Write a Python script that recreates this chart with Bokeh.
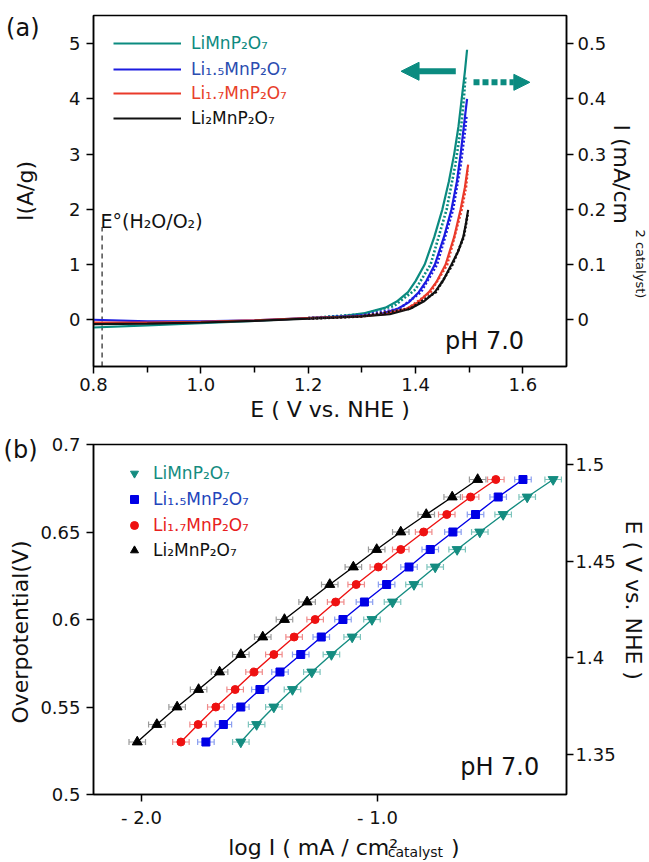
import math
from bokeh.plotting import figure
from bokeh.models import (LinearAxis, Range1d, FixedTicker, Legend, LegendItem, Label, Title,
                          Arrow, NormalHead, Whisker, TeeHead, ColumnDataSource)
from bokeh.layouts import column
from bokeh.embed import file_html
from bokeh.resources import INLINE

FONT = "DejaVu Sans"

# ---------------- Panel (a): LSV curves ----------------
names = ["LiMnP₂O₇", "Li₁.₅MnP₂O₇", "Li₁.₇MnP₂O₇", "Li₂MnP₂O₇"]
colors_a = ["#0b8b80", "#1c1ce0", "#ea3a2a", "#111111"]
text_colors_a = ["#0e8a80", "#2a4cb0", "#e8402a", "#111111"]

E_teal = [0.80, 0.90, 1.00, 1.10, 1.20, 1.26, 1.306, 1.344, 1.365, 1.386, 1.400, 1.417, 1.435, 1.450, 1.462, 1.472, 1.480, 1.486, 1.492, 1.496]
I_teal = [-0.14, -0.10, -0.06, -0.02, 0.03, 0.06, 0.12, 0.22, 0.33, 0.50, 0.70, 1.00, 1.50, 2.00, 2.50, 3.00, 3.50, 4.00, 4.50, 4.89]
E_blue = [0.80, 0.90, 1.00, 1.10, 1.20, 1.28, 1.333, 1.367, 1.388, 1.406, 1.420, 1.436, 1.453, 1.467, 1.477, 1.484, 1.490, 1.496]
I_blue = [0.00, -0.03, -0.03, -0.01, 0.03, 0.06, 0.10, 0.20, 0.32, 0.50, 0.70, 1.00, 1.50, 2.00, 2.50, 3.00, 3.50, 4.00]
E_red = [0.80, 0.90, 1.00, 1.10, 1.20, 1.29, 1.344, 1.383, 1.405, 1.425, 1.440, 1.456, 1.472, 1.484, 1.492, 1.498]
I_red = [-0.05, -0.05, -0.04, -0.01, 0.03, 0.06, 0.10, 0.20, 0.32, 0.50, 0.70, 1.00, 1.50, 2.00, 2.40, 2.81]
E_black = [0.80, 0.90, 1.00, 1.10, 1.20, 1.30, 1.352, 1.390, 1.415, 1.436, 1.452, 1.467, 1.480, 1.489, 1.494, 1.498]
I_black = [-0.08, -0.07, -0.05, -0.02, 0.02, 0.06, 0.10, 0.20, 0.33, 0.50, 0.72, 1.00, 1.25, 1.50, 1.75, 1.99]

# dotted curves: current per catalyst area (mA/cm2, right axis)
Ed_teal = [1.20, 1.30, 1.36, 1.40, 1.428, 1.458, 1.474, 1.485, 1.490, 1.493]
J_teal = [0.003, 0.010, 0.025, 0.055, 0.10, 0.20, 0.28, 0.35, 0.40, 0.44]
Ed_blue = [1.20, 1.30, 1.37, 1.41, 1.440, 1.470, 1.484, 1.492, 1.495]
J_blue = [0.003, 0.008, 0.020, 0.050, 0.10, 0.20, 0.28, 0.34, 0.37]
Ed_red = [1.20, 1.30, 1.385, 1.428, 1.459, 1.486, 1.494, 1.497]
J_red = [0.003, 0.006, 0.020, 0.050, 0.10, 0.20, 0.24, 0.27]
Ed_black = [1.20, 1.30, 1.39, 1.438, 1.469, 1.490, 1.497]
J_black = [0.002, 0.006, 0.020, 0.050, 0.10, 0.15, 0.19]

x_ticks_a = [0.8, 1.0, 1.2, 1.4, 1.6]
x_labels_a = ["0.8", "1.0", "1.2", "1.4", "1.6"]
x_minor_a = [0.9, 1.1, 1.3, 1.5]
y_ticks_a = [0, 1, 2, 3, 4, 5]
y2_ticks_a = [0, 0.1, 0.2, 0.3, 0.4, 0.5]
y2_labels_a = ["0", "0.1", "0.2", "0.3", "0.4", "0.5"]
E0 = 0.816          # E°(H2O/O2) at pH 7
E0_line_top = 1.68
arrow_left = dict(x_start=1.475, x_end=1.373, y=4.50)
arrow_right = dict(x_start=1.508, x_end=1.613, y=4.30)

# ---------------- Panel (b): Tafel plots ----------------
eta = [0.53, 0.54, 0.55, 0.56, 0.57, 0.58, 0.59, 0.60, 0.61, 0.62, 0.63, 0.64, 0.65, 0.66, 0.67, 0.68]
logI_teal = [-1.579, -1.512, -1.439, -1.360, -1.278, -1.195, -1.107, -1.023, -0.936, -0.845, -0.755, -0.662, -0.566, -0.467, -0.365, -0.255]
logI_blue = [-1.727, -1.653, -1.579, -1.498, -1.413, -1.325, -1.238, -1.146, -1.055, -0.961, -0.866, -0.776, -0.680, -0.584, -0.488, -0.383]
logI_red = [-1.833, -1.760, -1.685, -1.603, -1.523, -1.439, -1.353, -1.264, -1.177, -1.090, -0.996, -0.901, -0.804, -0.706, -0.605, -0.498]
logI_black = [-2.018, -1.935, -1.849, -1.758, -1.669, -1.579, -1.486, -1.394, -1.298, -1.202, -1.102, -1.003, -0.901, -0.793, -0.683, -0.575]
logI_err = 0.035
colors_b = ["#148c80", "#0000e6", "#ee1111", "#000000"]
err_colors_b = ["#7cc4bc", "#8a9ef0", "#f08a8a", "#9a9a9a"]
text_colors_b = ["#148c80", "#2244bb", "#e82020", "#111111"]
markers_b = ["inverted_triangle", "square", "circle", "triangle"]
marker_sizes_b = [10, 8, 8, 10]
x_ticks_b = [-2.0, -1.0]
x_labels_b = ["- 2.0", "- 1.0"]
y_ticks_b = [0.5, 0.55, 0.6, 0.65, 0.7]
y_labels_b = ["0.5", "0.55", "0.6", "0.65", "0.7"]
y2_ticks_b = [1.35, 1.4, 1.45, 1.5]
y2_labels_b = ["1.35", "1.4", "1.45", "1.5"]


def style_axis(ax, tick_out=7, standoff=4, size="18px"):
    ax.axis_line_color = "black"
    ax.axis_line_width = 1.5
    ax.major_tick_line_color = "black"
    ax.major_tick_line_width = 1.5
    ax.major_tick_out = tick_out
    ax.major_tick_in = 0
    ax.minor_tick_line_color = None
    ax.major_label_text_font = FONT
    ax.major_label_text_font_size = size
    ax.major_label_text_color = "#111111"
    ax.major_label_standoff = standoff
    ax.axis_label_text_font = FONT
    ax.axis_label_text_font_size = "22px"
    ax.axis_label_text_font_style = "normal"
    ax.axis_label_text_color = "#111111"


def text_axis(range_name, ticks, labels, size, standoff, dim="x"):
    """An axis with no line and no ticks, used only to place texts outside the frame."""
    kw = {"x_range_name": range_name} if dim == "x" else {"y_range_name": range_name}
    ax = LinearAxis(ticker=FixedTicker(ticks=ticks),
                    major_label_overrides={t: l for t, l in zip(ticks, labels)}, **kw)
    style_axis(ax, tick_out=0, standoff=standoff, size=size)
    ax.axis_line_color = None
    ax.major_tick_line_color = None
    return ax


def side_title(text, size, offset, standoff):
    return Title(text=text, align="left", offset=offset, standoff=standoff, text_font=FONT,
                 text_font_size=size, text_font_style="normal", text_color="#111111")


def make_legend(p, renderer, label, color, vx, t, frame_h, glyph_w, standoff):
    h = 20
    leg = Legend(items=[LegendItem(label=label, renderers=[renderer])],
                 location=(vx, frame_h - t - h / 2),
                 orientation="vertical", padding=0, margin=0, spacing=0,
                 glyph_width=glyph_w, glyph_height=h, label_height=h,
                 label_standoff=standoff,
                 label_text_font=FONT, label_text_font_size="17px",
                 label_text_color=color,
                 background_fill_alpha=0, border_line_alpha=0)
    p.add_layout(leg)


def add_text(p, x, y, text, size, color="#111111"):
    p.add_layout(Label(x=x, y=y, text=text, text_font=FONT, text_font_size=size,
                       text_color=color, text_align="left", text_baseline="alphabetic"))


# ---------- figure (a) ----------
A_W, A_H = 649, 430
A_L, A_R, A_T, A_B = 92, 82, 15, 64
a_frame_w = A_W - A_L - A_R
a_frame_h = A_H - A_T - A_B
xa0, xa1 = 0.8, 0.8 + a_frame_w / 539.0
ya1 = 5.51
ya0 = ya1 - a_frame_h / 55.22

pa = figure(width=A_W, height=A_H, x_range=Range1d(xa0, xa1), y_range=Range1d(ya0, ya1),
            output_backend="svg", toolbar_location=None,
            min_border_left=A_L, min_border_right=A_R, min_border_top=A_T, min_border_bottom=A_B)
pa.extra_y_ranges = {"area": Range1d(ya0 / 10.0, ya1 / 10.0), "pxa": Range1d(0, a_frame_h)}
pa.grid.visible = False
pa.outline_line_color = "black"
pa.outline_line_width = 1.5
pa.background_fill_color = "white"
pa.border_fill_color = "white"

pa.xaxis.ticker = FixedTicker(ticks=x_ticks_a, minor_ticks=x_minor_a)
pa.xaxis.major_label_overrides = {t: l for t, l in zip(x_ticks_a, x_labels_a)}
pa.yaxis.ticker = FixedTicker(ticks=y_ticks_a)
pa.xaxis.axis_label = "E ( V vs. NHE )"
pa.yaxis.axis_label = "I(A/g)"
for ax in pa.xaxis:
    style_axis(ax, standoff=4)
    ax.minor_tick_line_color = "black"
    ax.minor_tick_line_width = 1.5
    ax.minor_tick_out = 6
    ax.minor_tick_in = 0
    ax.axis_label_standoff = 3
for ax in pa.yaxis:
    style_axis(ax, standoff=6)
    ax.axis_label_standoff = 28

ra = LinearAxis(y_range_name="area", ticker=FixedTicker(ticks=y2_ticks_a),
                major_label_overrides={t: l for t, l in zip(y2_ticks_a, y2_labels_a)})
style_axis(ra, standoff=4)
pa.add_layout(ra, "right")

# panel tag "(a)" placed as a text-only axis beyond the left axis
pa.add_layout(text_axis("pxa", [a_frame_h - 12], ["(a)"], "24px", -29, dim="y"), "left")

# right axis title, written top-to-bottom in two columns
pa.add_layout(side_title("I (mA/cm", "22px", 109, -2), "right")
pa.add_layout(side_title("2 catalyst)", "13px", 214, -4), "right")

# E0 marker
pa.segment(x0=[E0], y0=[ya0], x1=[E0], y1=[E0_line_top], line_color="#222222",
           line_width=1.2, line_dash="5 4")

solid_a = []
for E, I, c in zip([E_teal, E_blue, E_red, E_black], [I_teal, I_blue, I_red, I_black], colors_a):
    solid_a.append(pa.line(E, I, line_color=c, line_width=2.2))
for E, J, c in zip([Ed_teal, Ed_blue, Ed_red, Ed_black], [J_teal, J_blue, J_red, J_black], colors_a):
    pa.line(E, J, line_color=c, line_width=2.6, line_dash="2 2", y_range_name="area")

# direction arrows
teal = colors_a[0]
pa.add_layout(Arrow(end=NormalHead(size=18, fill_color=teal, line_color=teal, line_width=1),
                    x_start=arrow_left["x_start"], y_start=arrow_left["y"],
                    x_end=arrow_left["x_end"], y_end=arrow_left["y"],
                    line_color=teal, line_width=6))
pa.add_layout(Arrow(end=NormalHead(size=16, fill_color=teal, line_color=teal, line_width=1),
                    x_start=arrow_right["x_start"], y_start=arrow_right["y"],
                    x_end=arrow_right["x_end"], y_end=arrow_right["y"],
                    line_color=teal, line_width=6, line_dash="6 3"))

for r, nm, tc, cy in zip(solid_a, names, text_colors_a, [43.3, 69, 92.7, 117.7]):
    make_legend(pa, r, nm, tc, 20, cy - A_T, a_frame_h, 68, 10)


def ax_x(px):
    return xa0 + (px - A_L) / 539.0


def ax_y(py):
    return ya0 + (A_H - A_B - py) / 55.22


add_text(pa, ax_x(445), ax_y(340), "pH 7.0", "24px")
add_text(pa, ax_x(99), ax_y(220), "E°(H₂O/O₂)", "19px")

# ---------- figure (b) ----------
B_W, B_H = 649, 432
B_L, B_R, B_T, B_B = 92, 81, 14, 68
b_frame_w = B_W - B_L - B_R
b_frame_h = B_H - B_T - B_B
xb0 = -2.2035
xb1 = xb0 + b_frame_w / 237.4
yb0, yb1 = 0.5, 0.7
e0, e1 = 1.3293, 1.5105

pb = figure(width=B_W, height=B_H, x_range=Range1d(xb0, xb1), y_range=Range1d(yb0, yb1),
            output_backend="svg", toolbar_location=None,
            min_border_left=B_L, min_border_right=B_R, min_border_top=B_T, min_border_bottom=B_B)
pb.extra_y_ranges = {"E": Range1d(e0, e1), "pxb": Range1d(0, b_frame_h)}
pb.extra_x_ranges = {"pxb": Range1d(0, b_frame_w)}
pb.grid.visible = False
pb.outline_line_color = "black"
pb.outline_line_width = 1.5
pb.background_fill_color = "white"
pb.border_fill_color = "white"

pb.xaxis.ticker = FixedTicker(ticks=x_ticks_b)
pb.xaxis.major_label_overrides = {t: l for t, l in zip(x_ticks_b, x_labels_b)}
pb.yaxis.ticker = FixedTicker(ticks=y_ticks_b)
pb.yaxis.major_label_overrides = {t: l for t, l in zip(y_ticks_b, y_labels_b)}
for ax in pb.xaxis:
    style_axis(ax, standoff=5)
for ax in pb.yaxis:
    style_axis(ax, standoff=6)

rb = LinearAxis(y_range_name="E", ticker=FixedTicker(ticks=y2_ticks_b),
                major_label_overrides={t: l for t, l in zip(y2_ticks_b, y2_labels_b)})
style_axis(rb, standoff=2)
pb.add_layout(rb, "right")

# axis titles placed along the frame sides
pb.add_layout(side_title("Overpotential(V)", "22px", 71, 10), "left")
pb.add_layout(side_title("E ( V vs. NHE )", "22px", 76, 4), "right")
# panel tag "(b)"
pb.add_layout(text_axis("pxb", [b_frame_h - 5], ["(b)"], "24px", -37, dim="y"), "left")
# x-axis title with super/subscripts as text-only axes
pb.add_layout(text_axis("pxb", [221, 364], ["log I ( mA / cm²", ")"], "22px", 4), "below")
pb.add_layout(text_axis("pxb", [324], ["catalyst"], "14px", -19), "below")

series_b = [logI_teal, logI_blue, logI_red, logI_black]
for xs, c, ec, tc, mk, ms, nm, cy in zip(series_b, colors_b, err_colors_b, text_colors_b,
                                         markers_b, marker_sizes_b, names, [43.3, 69, 95, 120]):
    src = ColumnDataSource(dict(x=xs, y=eta,
                                lo=[v - logI_err for v in xs], hi=[v + logI_err for v in xs]))
    pb.add_layout(Whisker(source=src, base="y", lower="lo", upper="hi", dimension="width",
                          line_color=ec, line_width=1.2,
                          lower_head=TeeHead(size=6, line_color=ec, line_width=1.2),
                          upper_head=TeeHead(size=6, line_color=ec, line_width=1.2)))
    pb.line("x", "y", source=src, line_color=c, line_width=1.4)
    r = pb.scatter("x", "y", source=src, marker=mk, size=ms, fill_color=c, line_color=c)
    make_legend(pb, r, nm, tc, 31, cy - B_T, b_frame_h, 20, 9)


def bx_x(px):
    return xb0 + (px - B_L) / 237.4


def bx_y(py):
    return yb0 + (B_H - B_B - py) / 1750.0


add_text(pb, bx_x(461), bx_y(336.7), "pH 7.0", "24px")

layout = column(pa, pb, spacing=0)
open("out.html", "w").write(file_html(layout, INLINE))
